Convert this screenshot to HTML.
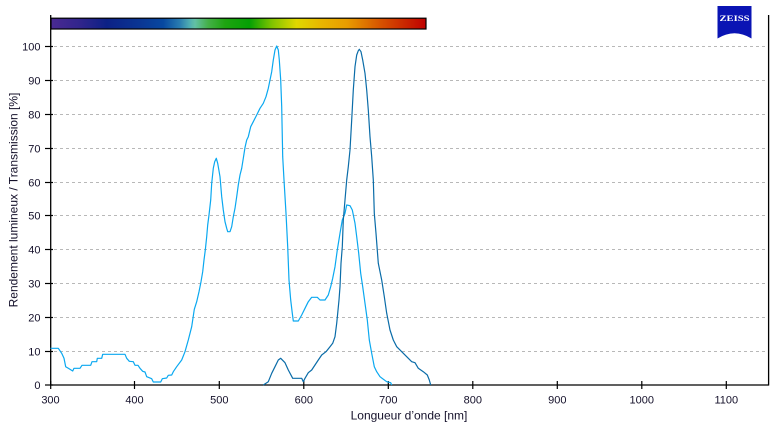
<!DOCTYPE html>
<html><head><meta charset="utf-8"><style>
html,body{margin:0;padding:0;background:#fff;}
svg{display:block;}
text{font-family:"Liberation Sans","DejaVu Sans",sans-serif;fill:#14102a;}
</style></head><body>
<svg width="783" height="426" viewBox="0 0 783 426" xmlns="http://www.w3.org/2000/svg">
<defs>
<linearGradient id="spec" x1="50.5" y1="0" x2="426" y2="0" gradientUnits="userSpaceOnUse">
<stop offset="0" stop-color="#4b2a92"/>
<stop offset="0.08" stop-color="#30258c"/>
<stop offset="0.15" stop-color="#0c2186"/>
<stop offset="0.24" stop-color="#0a3694"/>
<stop offset="0.30" stop-color="#0748a0"/>
<stop offset="0.345" stop-color="#2a7eb0"/>
<stop offset="0.37" stop-color="#4fadb2"/>
<stop offset="0.385" stop-color="#62c0a4"/>
<stop offset="0.42" stop-color="#44b048"/>
<stop offset="0.465" stop-color="#1ea410"/>
<stop offset="0.53" stop-color="#04a004"/>
<stop offset="0.59" stop-color="#80c400"/>
<stop offset="0.655" stop-color="#e0d800"/>
<stop offset="0.72" stop-color="#e8b600"/>
<stop offset="0.79" stop-color="#e89c00"/>
<stop offset="0.88" stop-color="#d65200"/>
<stop offset="1" stop-color="#bf0000"/>
</linearGradient>
</defs>
<rect width="783" height="426" fill="#fff"/>

<!-- gridlines -->
<g stroke="#b8b8b8" stroke-width="1" stroke-dasharray="3,3">
<line x1="54" y1="351.5" x2="768" y2="351.5"/>
<line x1="54" y1="317.5" x2="768" y2="317.5"/>
<line x1="54" y1="283.5" x2="768" y2="283.5"/>
<line x1="54" y1="249.5" x2="768" y2="249.5"/>
<line x1="54" y1="215.5" x2="768" y2="215.5"/>
<line x1="54" y1="182.5" x2="768" y2="182.5"/>
<line x1="54" y1="148.5" x2="768" y2="148.5"/>
<line x1="54" y1="114.5" x2="768" y2="114.5"/>
<line x1="54" y1="80.5" x2="768" y2="80.5"/>
<line x1="54" y1="46.5" x2="768" y2="46.5"/>
</g>

<!-- color bar -->
<rect x="51" y="18.2" width="375" height="10.8" fill="url(#spec)" stroke="#000" stroke-width="1.2"/>

<!-- axes -->
<g stroke="#000" stroke-width="1.3" fill="none">
<line x1="50.7" y1="15" x2="50.7" y2="385.5"/>
<line x1="50" y1="385" x2="769" y2="385"/>
<line x1="768.6" y1="15" x2="768.6" y2="385.5"/>
</g>
<g stroke="#000" stroke-width="1.2">
<line x1="45" y1="385" x2="53" y2="385"/>
<line x1="45" y1="351.5" x2="53" y2="351.5"/>
<line x1="45" y1="317.5" x2="53" y2="317.5"/>
<line x1="45" y1="283.5" x2="53" y2="283.5"/>
<line x1="45" y1="249.5" x2="53" y2="249.5"/>
<line x1="45" y1="215.5" x2="53" y2="215.5"/>
<line x1="45" y1="182.5" x2="53" y2="182.5"/>
<line x1="45" y1="148.5" x2="53" y2="148.5"/>
<line x1="45" y1="114.5" x2="53" y2="114.5"/>
<line x1="45" y1="80.5" x2="53" y2="80.5"/>
<line x1="45" y1="46.5" x2="53" y2="46.5"/>
<line x1="50.7" y1="381" x2="50.7" y2="389"/>
<line x1="134.5" y1="381" x2="134.5" y2="389"/>
<line x1="219.3" y1="381" x2="219.3" y2="389"/>
<line x1="303.8" y1="381" x2="303.8" y2="389"/>
<line x1="388.3" y1="381" x2="388.3" y2="389"/>
<line x1="472.8" y1="381" x2="472.8" y2="389"/>
<line x1="557.3" y1="381" x2="557.3" y2="389"/>
<line x1="641.8" y1="381" x2="641.8" y2="389"/>
<line x1="726.3" y1="381" x2="726.3" y2="389"/>
</g>

<!-- y tick labels -->
<g font-size="11" text-anchor="end">
<text x="40.5" y="389">0</text>
<text x="40.5" y="355.5">10</text>
<text x="40.5" y="321.5">20</text>
<text x="40.5" y="287.5">30</text>
<text x="40.5" y="253.5">40</text>
<text x="40.5" y="219.5">50</text>
<text x="40.5" y="186.5">60</text>
<text x="40.5" y="152.5">70</text>
<text x="40.5" y="118.5">80</text>
<text x="40.5" y="84.5">90</text>
<text x="40.5" y="50.5">100</text>
</g>
<!-- x tick labels -->
<g font-size="11" text-anchor="middle">
<text x="50.5" y="403.5">300</text>
<text x="134.5" y="403.5">400</text>
<text x="219.3" y="403.5">500</text>
<text x="303.8" y="403.5">600</text>
<text x="388.3" y="403.5">700</text>
<text x="472.8" y="403.5">800</text>
<text x="557.3" y="403.5">900</text>
<text x="641.8" y="403.5">1000</text>
<text x="726.3" y="403.5">1100</text>
</g>

<text x="409" y="419.5" font-size="12" text-anchor="middle">Longueur d’onde [nm]</text>
<text transform="translate(17.5,200) rotate(-90)" font-size="12" text-anchor="middle">Rendement lumineux / Transmission [%]</text>

<!-- curves -->
<polyline fill="none" stroke="#0aa8f0" stroke-width="1.2" stroke-linejoin="round" points="50.5,348.3 58.3,348.3 61.7,353.3 64,358.3 65.7,366.7 68.3,368.3 72.7,371 74,368.3 80,368.3 82,365.3 90.7,365.3 92,361.7 96.7,361.7 97.3,358.3 101.7,358.3 102.7,354.3 125,354.3 126.7,358.3 129.3,361.3 133.3,361.7 135,365.3 138,365.3 140,368.3 142.7,371.3 145,372 146.7,376.7 151.7,378.7 153.3,382 160.7,382 162.3,378.7 166.7,378 168.3,375.3 171.7,375 173.3,371.7 176.7,366.7 181.7,360 185,351.7 188.3,340 191.7,326.7 194.3,309.3 196.7,301.7 199,291.7 201,281.7 202.7,271.7 204,260 205.3,250 206.7,236.7 207.7,225 209,215 210.7,200 211.7,183.3 213.3,168.3 214.7,161.7 216.3,158.3 217.7,163.3 220,176.7 221.7,196.7 223.3,210 225,221.7 226.7,228.3 227.7,231.7 230,231.7 231.7,226.7 233.3,216.7 235,208.3 236.7,196.7 238.3,185 240,175 241.7,168.3 243.3,158.3 245,147.5 246.7,140 248.3,136.7 250.7,126.7 253.3,121.7 256.7,115 260,108.3 263.3,103.3 266,96.7 268.3,88.3 270,80 271.7,71.7 273.3,60 275,50 276.7,46 278.3,50 279.3,60 280.7,80 281.7,106.7 282.7,156.7 284,180 286,213.3 287.7,246.7 289,280 290.7,300 292.3,313.3 293.3,321 298.3,321 301.7,315 305,308.3 308.3,301.7 311.7,297.3 317.3,297.3 320,300 325,300 328.3,295 330.7,286.7 332.7,278.3 335,266.7 337.3,250 340,233.3 342.3,220 345,213.3 346.7,205 350,205.7 352.3,210 355,223.3 356.7,236.7 358.7,253.3 360.7,273.3 362.7,286.7 365,303.3 367.3,320 369.3,340 371.7,353.3 374.3,366.7 376.7,371.7 380,376.7 386.7,381.7 390.7,382.7 391.7,385"/>
<polyline fill="none" stroke="#0a6ca8" stroke-width="1.2" stroke-linejoin="round" points="263.3,385 268.3,381.7 271.7,373.3 275,366.7 278.3,360 280.7,358.3 285,362.7 288.3,370 292.7,378.3 301.7,378.3 303.3,381.7 305,378.3 308.3,372.7 311.7,370 315,365 318.3,360 321.7,355 326,351.7 330,346.7 332.7,343.3 335,336.7 336.7,323.3 337.7,313.3 339,300 340,286.7 341,263.3 342.3,246.7 343.3,220 345,200 346.7,180 348.3,166.7 350,150 351.7,120 353.3,90 355,66.7 356.7,55 358.3,50.7 359.3,49.3 361,51.7 362.7,60 365,73.3 366.7,90 368.3,110 370,136.7 371.7,156.7 373.3,180 374.3,213.3 376,233.3 378.3,263.3 381.7,280 384.3,296.7 386.7,313.3 390,330 393.3,340 396.7,346.7 401.7,351.7 406.7,356.7 411.7,361.7 415,362.7 418.3,368.3 423.3,371.7 427.3,375 429.3,380 430.7,385"/>

<!-- ZEISS logo -->
<path d="M717.5,6 H751.5 V38.5 Q734.5,28 717.5,38.5 Z" fill="#0a14b4"/>
<text x="734.5" y="21" font-size="8" font-weight="bold" style="fill:#fff;font-family:'Liberation Serif',serif" text-anchor="middle" textLength="30" lengthAdjust="spacingAndGlyphs">ZEISS</text>
</svg>
</body></html>
